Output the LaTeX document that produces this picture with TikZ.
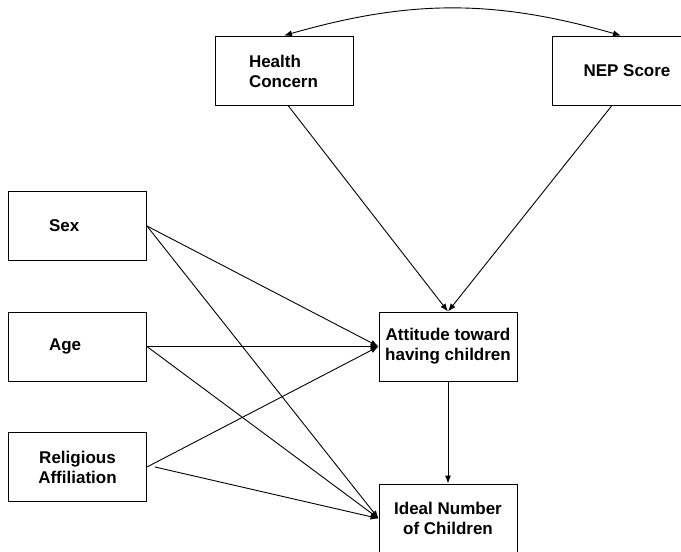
\documentclass[tikz,border=0pt]{standalone}
\usepackage{fontspec}
\setmainfont{Liberation Sans}
\usetikzlibrary{arrows.meta}

\begin{document}
\begin{tikzpicture}[x=1pt,y=-1pt,line width=0.9pt,>={Latex[length=8pt,width=6pt]},
   box/.style={draw,minimum width=138pt,minimum height=69pt,align=center,
     font=\bfseries\fontsize{17}{20}\selectfont},
   boxleft/.style={box,align=left,text width=#1}]
   \useasboundingbox (0,0) rectangle (681,552);
   % top row
   \node[boxleft=70pt,text depth=18pt] (hc) at (284,70.5) {Health\\Concern};
   \node[box,minimum width=150pt]      (nep) at (627,70.5) {NEP Score};
   % left column
   \node[boxleft=57pt] (sex) at (77.5,226)   {Sex};
   \node[boxleft=57pt] (age) at (77.5,346.5) {Age};
   \node[box]          (rel) at (77.5,467)   {Religious\\Affiliation};
   % right column
   \node[box] (att)   at (448,346.5) {Attitude toward\\having children};
   \node[box] (ideal) at (448,518.5) {Ideal Number\\of Children};
   % paths
   \draw[<->] (hc.north) to[bend left=16] ([xshift=-6pt]nep.north);
   \draw[->] ([xshift=4pt]hc.south) -- (att.north);
   \draw[->] ([xshift=-15pt]nep.south) -- (att.north);
   \draw[->] (sex.east) -- (att.west);
   \draw[->] (sex.east) -- (ideal.west);
   \draw[->] (age.east) -- (att.west);
   \draw[->] (age.east) -- (ideal.west);
   \draw[->] (rel.east) -- (att.west);
   \draw[->] ([xshift=8pt]rel.east) -- (ideal.west);
   \draw[->] (att.south) -- (ideal.north);
\end{tikzpicture}
\end{document}
